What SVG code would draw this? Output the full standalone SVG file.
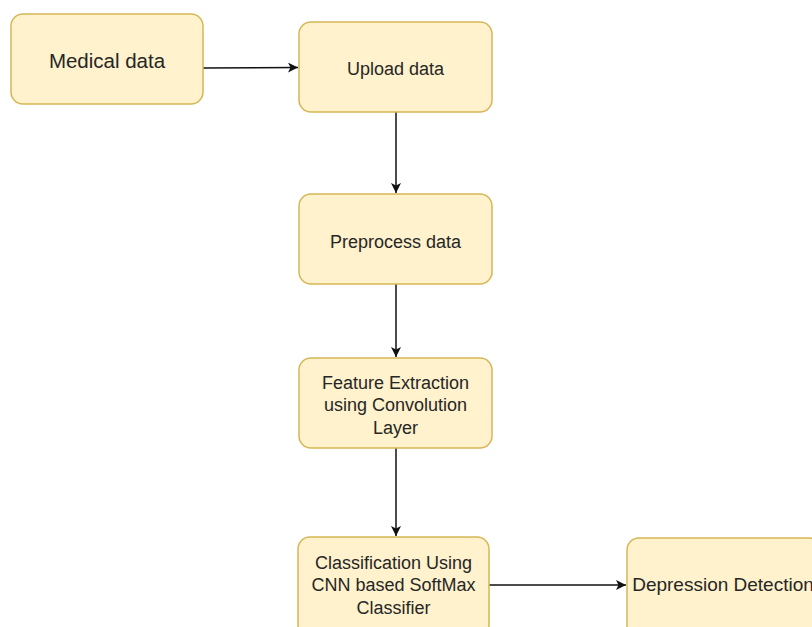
<svg xmlns="http://www.w3.org/2000/svg" width="812" height="627" viewBox="0 0 812 627">
<defs>
<style>
.box{fill:#FFF2CC;stroke:#D6B656;stroke-width:1.5}
.t{font-family:"Liberation Sans",Arial,sans-serif;font-size:18px;fill:#262626;text-anchor:middle}
.e{stroke:#111;stroke-width:1.5;fill:none}
</style>
<marker id="ah" viewBox="0 0 10 10" refX="10" refY="5" markerWidth="10" markerHeight="10" markerUnits="userSpaceOnUse" orient="auto">
<path d="M0,0 L10,5 L0,10 L2.5,5 Z" fill="#111"/>
</marker>
</defs>
<rect width="812" height="627" fill="#fff"/>
<g id="connectors">
<path class="e" d="M203,68 L298,67.5" marker-end="url(#ah)"/>
<path class="e" d="M396,112 L396,193" marker-end="url(#ah)"/>
<path class="e" d="M396,284 L396,357" marker-end="url(#ah)"/>
<path class="e" d="M396,448 L396,536" marker-end="url(#ah)"/>
<path class="e" d="M489,585 L626,585" marker-end="url(#ah)"/>
</g>
<g id="n-medical">
<rect class="box" x="11" y="14" width="192" height="90" rx="12"/>
<text class="t" x="107" y="68" style="font-size:20.5px">Medical data</text>
</g>
<g id="n-upload">
<rect class="box" x="299" y="22" width="193" height="90" rx="12"/>
<text class="t" x="395.5" y="75">Upload data</text>
</g>
<g id="n-preprocess">
<rect class="box" x="299" y="194" width="193" height="90" rx="12"/>
<text class="t" x="395.5" y="248">Preprocess data</text>
</g>
<g id="n-feature">
<rect class="box" x="299" y="358" width="193" height="90" rx="12"/>
<text class="t" x="395.5" y="389">Feature Extraction</text>
<text class="t" x="395.5" y="411">using Convolution</text>
<text class="t" x="395.5" y="434">Layer</text>
</g>
<g id="n-classification">
<rect class="box" x="298" y="537" width="191" height="100" rx="12"/>
<text class="t" x="393.5" y="569">Classification Using</text>
<text class="t" x="393.5" y="591">CNN based SoftMax</text>
<text class="t" x="393.5" y="614">Classifier</text>
</g>
<g id="n-depression">
<rect class="box" x="627" y="538" width="194" height="100" rx="12"/>
<text class="t" x="723" y="591" style="font-size:19px">Depression Detection</text>
</g>
</svg>
